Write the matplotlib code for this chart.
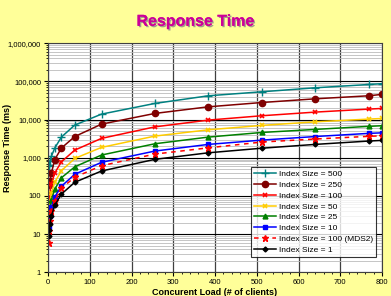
import matplotlib
matplotlib.use("Agg")
import matplotlib.pyplot as plt
import matplotlib.patheffects as pe
from matplotlib.ticker import FixedLocator, NullFormatter, LogLocator, FuncFormatter, MultipleLocator

plt.rcParams['font.family'] = ['Liberation Sans', 'DejaVu Sans']

loads = [1, 2, 4, 8, 16, 32, 64, 128, 256, 384, 512, 640, 768, 800]
size_500 = [600, 650, 800, 1100, 1800, 3500, 7200, 13900, 26500, 42000, 53500, 68000, 83000, 87000]
size_250 = [190, 210, 240, 400, 900, 1800, 3600, 7600, 14500, 21600, 28000, 35000, 42000, 45700]
size_100 = [70, 90, 120, 210, 400, 785, 1590, 3220, 6450, 9700, 12600, 15700, 18800, 19600]
size_50 = [40, 50, 70, 120, 230, 460, 960, 1870, 3700, 5400, 7040, 8730, 10300, 10700]
size_25 = [30, 35, 45, 80, 150, 300, 580, 1180, 2330, 3480, 4600, 5530, 6650, 6900]
size_10 = [15, 20, 30, 50, 95, 180, 370, 760, 1500, 2240, 2900, 3600, 4350, 4500]
size_100_mds2 = [6, 12, 22, 40, 75, 160, 310, 620, 1250, 1820, 2580, 3100, 3640, 3760]
size_1 = [9, 13, 18, 30, 57, 112, 228, 450, 910, 1350, 1780, 2240, 2740, 2850]

labels = ["Index Size = 500", "Index Size = 250", "Index Size = 100", "Index Size = 50",
          "Index Size = 25", "Index Size = 10", "Index Size = 100 (MDS2)", "Index Size = 1"]
x_ticks = [0, 100, 200, 300, 400, 500, 600, 700, 800]
y_ticks = [1, 10, 100, 1000, 10000, 100000, 1000000]

series = [size_500, size_250, size_100, size_50, size_25, size_10, size_100_mds2, size_1]
styles = [
    dict(color='#008080', marker='+', ms=6, mew=1.0, ls='-'),
    dict(color='#800000', marker='o', ms=4.5, ls='-'),
    dict(color='#FF0000', marker='x', ms=3.5, mew=1.2, ls='-'),
    dict(color='#FFCC00', marker='x', ms=3.5, mew=1.2, ls='-'),
    dict(color='#008000', marker='^', ms=3.5, ls='-'),
    dict(color='#0000FF', marker='s', ms=3.5, ls='-'),
    dict(color='#FF0000', marker='*', ms=5, ls=(0, (3, 3))),
    dict(color='#000000', marker='D', ms=2.5, ls='-'),
]

fig = plt.figure(figsize=(3.91, 2.96), dpi=100, facecolor='#FFFF99')
ax = fig.add_axes([0.123, 0.08, 0.854, 0.774])
ax.set_facecolor('white')

for vals, lab, st in zip(series, labels, styles):
    ax.plot(loads, vals, label=lab, lw=1.1, **st)

ax.set_yscale('log')
ax.set_xlim(0, 800)
ax.set_ylim(1, 1000000)
ax.xaxis.set_major_locator(FixedLocator(x_ticks))
ax.xaxis.set_minor_locator(MultipleLocator(20))
ax.yaxis.set_major_locator(FixedLocator(y_ticks))
ax.yaxis.set_minor_locator(LogLocator(base=10, subs=range(2, 10)))
ax.yaxis.set_minor_formatter(NullFormatter())
ax.yaxis.set_major_formatter(FuncFormatter(lambda v, p: f"{int(round(v)):,}"))

ax.grid(True, which='major', axis='y', color='black', lw=0.8)
ax.grid(True, which='minor', axis='y', color='#BBBBBB', lw=0.6)
ax.grid(True, which='major', axis='x', color='#404040', lw=0.9)
ax.set_axisbelow(True)

ax.tick_params(axis='both', which='major', labelsize=5.5, length=3, width=0.8, pad=2)
ax.tick_params(axis='both', which='minor', length=1.5, width=0.6)
for s in ax.spines.values():
    s.set_color('#404040')
    s.set_linewidth(0.8)

fig.text(8 / 391, 0.5, "Response Time (ms)", rotation=90, ha='center', va='center',
         fontsize=6.5, fontweight='bold')
ax.set_xlabel("Concurent Load (# of clients)", fontsize=6.5, fontweight='bold', labelpad=1)

fig.text(0.5, 0.928, "Response Time", ha='center', va='center', fontsize=11.5,
         fontweight='bold', color='#CC0099',
         path_effects=[pe.withSimplePatchShadow(offset=(1, -1), shadow_rgbFace='#888888', alpha=0.8), pe.Normal()])

leg = ax.legend(loc='lower right', fontsize=6.0, frameon=True, fancybox=False,
                edgecolor='black', borderpad=0.4, labelspacing=0.35, handlelength=2.6,
                handletextpad=0.3, borderaxespad=0, bbox_to_anchor=(0.982, 0.067))
leg.get_frame().set_linewidth(0.8)

fig.savefig("out.png", dpi=100, facecolor=fig.get_facecolor())
